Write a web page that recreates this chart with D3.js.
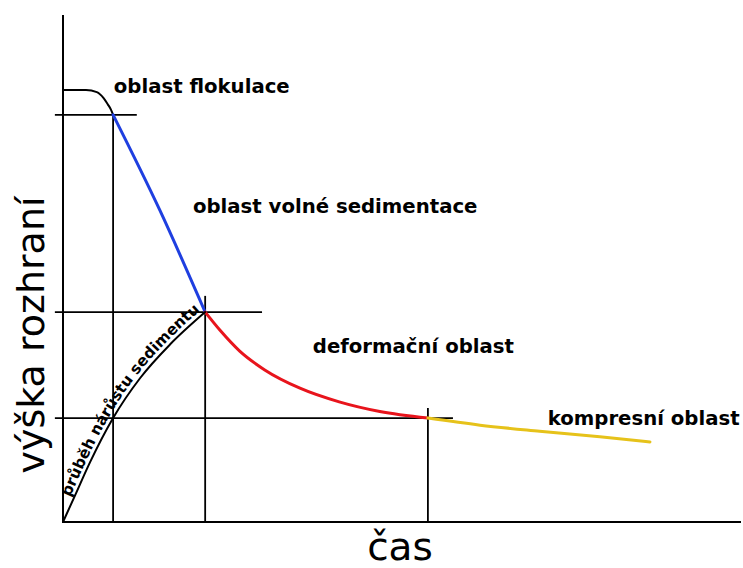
<!DOCTYPE html>
<html>
<head>
<meta charset="utf-8">
<script src="https://cdn.jsdelivr.net/npm/d3@7"></script>
<style>
  body { margin: 0; background: #fff; }
  svg text { font-family: "DejaVu Sans", sans-serif; fill: #000; }
</style>
</head>
<body>
<svg id="graf" width="743" height="568"></svg>
<script>
const W = 743, H = 568;
const MARGIN = { TOP: 15, BOTTOM: 46, LEFT: 63, RIGHT: 3 };

// casove body a vysky rozhrani (relativni jednotky 0-100)
var flokulace = [[0, 85.2], [3.4, 85.2], [5, 84.8], [6, 83.6], [6.6, 82.4], [7.1, 81.3], [7.4, 80.3]];
var volna = [[7.4, 80.3], [14.3, 61.5], [21.0, 41.4]];
var deformace = [[21.0, 41.4], [23.2, 37.8], [26.1, 33.7], [29.8, 30.0], [35.0, 26.4], [40.8, 23.7], [46.8, 21.8], [53.9, 20.5]];
var komprese = [[53.9, 20.5], [61.6, 19.1], [70.4, 17.9], [79.3, 16.8], [86.7, 15.8]];
var narust = [[0, 0], [1.8, 5.3], [4.0, 11.8], [7.4, 20.5], [11.4, 28.4], [15.8, 35.0], [21.0, 41.4]];

// pomocne cary: [x1, y1, x2, y2]
var vodorovne = [[-1.2, 80.3, 10.9, 80.3], [-1.2, 41.4, 29.4, 41.4], [-1.2, 20.5, 57.6, 20.5]];
var svisle = [[7.4, 80.3, 7.4, 0], [21.0, 44.6, 21.0, 0], [53.9, 22.5, 53.9, 0]];

var popisky = [
  { text: "oblast flokulace", t: 7.5, h: 84.6 },
  { text: "oblast volné sedimentace", t: 19.2, h: 60.9 },
  { text: "deformační oblast", t: 36.9, h: 33.3 },
  { text: "kompresní oblast", t: 71.6, h: 19.1 }
];

var svg = d3.select("#graf");

var x = d3.scaleLinear().domain([0, 100]).range([MARGIN.LEFT, W - MARGIN.RIGHT]);
var y = d3.scaleLinear().domain([0, 100]).range([H - MARGIN.BOTTOM, MARGIN.TOP]);

var line = d3.line().x(d => x(d[0])).y(d => y(d[1])).curve(d3.curveMonotoneX);

// osy
svg.append("line").attr("x1", x(0)).attr("x2", x(0)).attr("y1", y(0) + 1).attr("y2", 15)
  .attr("stroke", "#000").attr("stroke-width", 2);
svg.append("line").attr("x1", x(0)).attr("x2", 741).attr("y1", y(0)).attr("y2", y(0))
  .attr("stroke", "#000").attr("stroke-width", 2);

// pomocne cary
svg.selectAll(".vod").data(vodorovne.concat(svisle)).enter().append("line")
  .attr("x1", d => x(d[0])).attr("y1", d => y(d[1]))
  .attr("x2", d => x(d[2])).attr("y2", d => y(d[3]))
  .attr("stroke", "#000").attr("stroke-width", 1.8);

// krivky
var krivky = [
  { data: flokulace, color: "#000" },
  { data: volna, color: "#1f3fe0" },
  { data: deformace, color: "#e8141c" },
  { data: komprese, color: "#e6c21a" },
  { data: narust, color: "#000" }
];
svg.selectAll(".krivka").data(krivky).enter().append("path")
  .attr("d", d => line(d.data))
  .attr("fill", "none")
  .attr("stroke", d => d.color)
  .attr("stroke-width", d => d.color == "#000" ? 2 : 3)
  .attr("stroke-linecap", "round");

// text podel krivky narustu
svg.append("path").attr("id", "narustPath")
  .attr("d", line(narust))
  .attr("transform", "translate(-3,-3)")
  .attr("fill", "none");
svg.append("text")
  .attr("font-size", 15.3).attr("font-weight", "bold")
  .append("textPath").attr("href", "#narustPath")
  .attr("startOffset", 24)
  .text("průběh nárůstu sedimentu");

// popisky oblasti
svg.selectAll(".popis").data(popisky).enter().append("text")
  .attr("x", d => x(d.t)).attr("y", d => y(d.h))
  .attr("font-size", 19.7)
  .attr("font-weight", "bold")
  .text(d => d.text);

// nazvy os
svg.append("text")
  .attr("transform", "translate(44," + 335 + ") rotate(-90)")
  .attr("text-anchor", "middle")
  .attr("font-size", 38)
  .text("výška rozhraní");
svg.append("text")
  .attr("x", 400).attr("y", 560)
  .attr("text-anchor", "middle")
  .attr("font-size", 39)
  .text("čas");
</script>
</body>
</html>
